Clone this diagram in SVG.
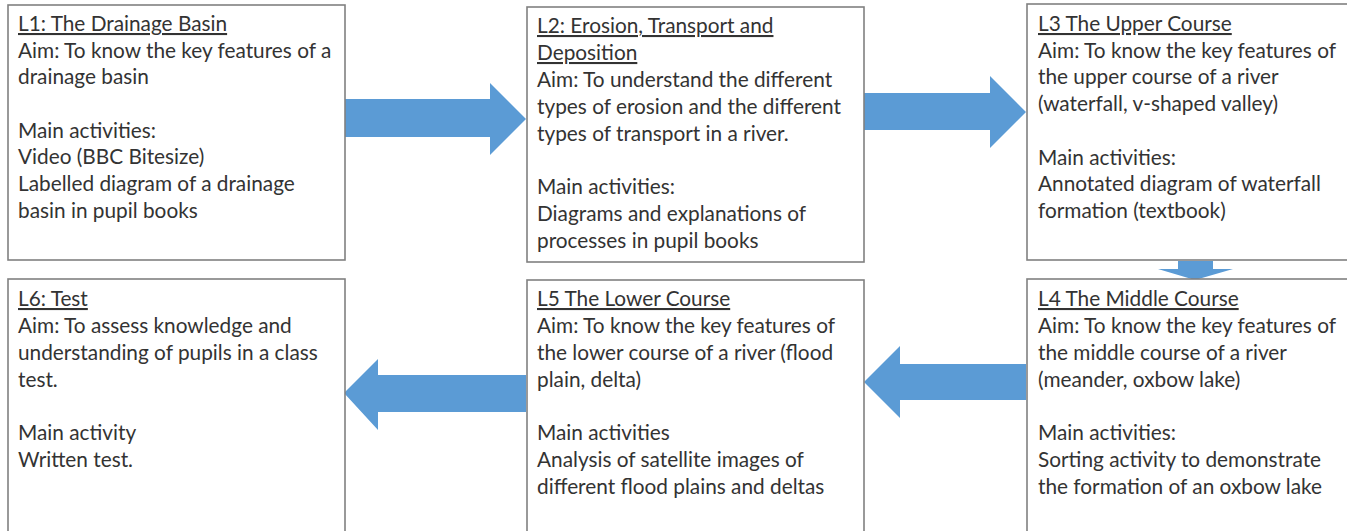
<svg xmlns="http://www.w3.org/2000/svg" width="1347" height="531" viewBox="0 0 1347 531">
<style>
.box{fill:#fff;stroke:#808080;stroke-width:1.6}
.arr{fill:#5b9bd5}
text{font-family:Lato,"Open Sans",sans-serif;font-size:20.8px;fill:#333}
.t{text-decoration:underline}
</style>
<rect width="1347" height="531" fill="#fff"/>
<g id="connectors">
<polygon class="arr" points="345,99 490,99 490,83 526,119 490,155 490,137 345,137"/>
<polygon class="arr" points="864,93 990,93 990,76 1026,112 990,148 990,130 864,130"/>
<polygon class="arr" points="1178,261 1213,261 1213,269 1233,269 1195,280 1158,269 1178,269"/>
<polygon class="arr" points="1026,364 900,364 900,346 864,382 900,418 900,400 1026,400"/>
<polygon class="arr" points="526,375 378,375 378,359 344,393 378,430 378,412 526,412"/>
</g>
<g id="L1">
<rect class="box" x="8" y="5" width="337" height="255"/>
<text x="18" y="31" class="t">L1: The Drainage Basin</text>
<text x="18" y="58">Aim: To know the key features of a</text>
<text x="18" y="84">drainage basin</text>
<text x="18" y="138">Main activities:</text>
<text x="18" y="164">Video (BBC Bitesize)</text>
<text x="18" y="191">Labelled diagram of a drainage</text>
<text x="18" y="218">basin in pupil books</text>
</g>
<g id="L2">
<rect class="box" x="527" y="7" width="337" height="255"/>
<text x="537" y="33" class="t">L2: Erosion, Transport and</text>
<text x="537" y="60" class="t">Deposition</text>
<text x="537" y="87">Aim: To understand the different</text>
<text x="537" y="114">types of erosion and the different</text>
<text x="537" y="141">types of transport in a river.</text>
<text x="537" y="194">Main activities:</text>
<text x="537" y="221">Diagrams and explanations of</text>
<text x="537" y="248">processes in pupil books</text>
</g>
<g id="L3">
<rect class="box" x="1027" y="4" width="330" height="256"/>
<text x="1038" y="31" class="t">L3 The Upper Course</text>
<text x="1038" y="58">Aim: To know the key features of</text>
<text x="1038" y="84">the upper course of a river</text>
<text x="1038" y="111">(waterfall, v-shaped valley)</text>
<text x="1038" y="165">Main activities:</text>
<text x="1038" y="191">Annotated diagram of waterfall</text>
<text x="1038" y="218">formation (textbook)</text>
</g>
<g id="L4">
<rect class="box" x="1027" y="279" width="330" height="262"/>
<text x="1038" y="306" class="t">L4 The Middle Course</text>
<text x="1038" y="333">Aim: To know the key features of</text>
<text x="1038" y="360">the middle course of a river</text>
<text x="1038" y="387">(meander, oxbow lake)</text>
<text x="1038" y="440">Main activities:</text>
<text x="1038" y="467">Sorting activity to demonstrate</text>
<text x="1038" y="494">the formation of an oxbow lake</text>
</g>
<g id="L5">
<rect class="box" x="527" y="280" width="337" height="261"/>
<text x="537" y="306" class="t">L5 The Lower Course</text>
<text x="537" y="333">Aim: To know the key features of</text>
<text x="537" y="360">the lower course of a river (flood</text>
<text x="537" y="387">plain, delta)</text>
<text x="537" y="440">Main activities</text>
<text x="537" y="467">Analysis of satellite images of</text>
<text x="537" y="494">different flood plains and deltas</text>
</g>
<g id="L6">
<rect class="box" x="8" y="279" width="337" height="262"/>
<text x="18" y="306" class="t">L6: Test</text>
<text x="18" y="333">Aim: To assess knowledge and</text>
<text x="18" y="360">understanding of pupils in a class</text>
<text x="18" y="387">test.</text>
<text x="18" y="440">Main activity</text>
<text x="18" y="467">Written test.</text>
</g>
</svg>
